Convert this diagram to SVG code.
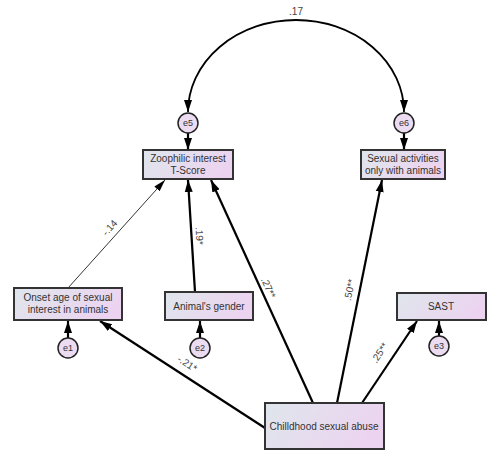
<svg xmlns="http://www.w3.org/2000/svg" width="500" height="455" viewBox="0 0 500 455">
<defs>
<linearGradient id="g" x1="0" y1="0" x2="1" y2="0.3">
<stop offset="0" stop-color="#dfe6ec"/>
<stop offset="1" stop-color="#ecd4f0"/>
</linearGradient>
<marker id="ah" viewBox="0 0 12 10" refX="12" refY="5" markerWidth="12" markerHeight="10" markerUnits="userSpaceOnUse" orient="auto-start-reverse">
<path d="M0,1 L12,5 L0,9 Z" fill="#000"/>
</marker>
<marker id="ahs" viewBox="0 0 12 10" refX="12" refY="5" markerWidth="12" markerHeight="10" markerUnits="userSpaceOnUse" orient="auto-start-reverse">
<path d="M0,1.5 L12,5 L0,8.5 Z" fill="#000"/>
</marker>
</defs>
<style>
.box{fill:url(#g);stroke:#333;stroke-width:2}
.err{fill:#ecdcf2;stroke:#222;stroke-width:1.5}
text{font-family:"Liberation Sans",Arial,sans-serif;font-size:10px;fill:#333;text-anchor:middle}
.et{font-size:9px}
.lbl{font-size:10px;fill:#444}
.c{stroke:#000;stroke-width:2.2;fill:none;marker-end:url(#ah)}
.thin{stroke:#000;stroke-width:0.8;fill:none;marker-end:url(#ahs)}
</style>
<rect width="500" height="455" fill="#fff"/>
<g id="connectors">
<path d="M188,112 A108,92 0 0 1 404,112" fill="none" stroke="#000" stroke-width="1.8" marker-start="url(#ah)" marker-end="url(#ah)"/>
<line class="c" x1="188" y1="133" x2="188" y2="150"/>
<line class="c" x1="404" y1="133" x2="404" y2="150"/>
<line class="thin" x1="68" y1="288" x2="165" y2="180"/>
<line class="c" x1="195" y1="292" x2="188" y2="180"/>
<line class="c" x1="313" y1="403" x2="211" y2="180"/>
<line class="c" x1="337" y1="403" x2="382" y2="180"/>
<line class="c" x1="362" y1="403" x2="417" y2="321"/>
<line class="c" x1="265" y1="428" x2="100" y2="321"/>
<line class="c" x1="68" y1="338" x2="68" y2="321"/>
<line class="c" x1="200" y1="338" x2="200" y2="321"/>
<line class="c" x1="439" y1="336" x2="439" y2="321"/>
<text class="lbl" x="296" y="15">.17</text>
<text class="lbl" transform="translate(110,228) rotate(-48)" y="3">-.14</text>
<text class="lbl" transform="translate(199,236) rotate(87)" y="3">.19*</text>
<text class="lbl" transform="translate(268,288) rotate(65.5)" y="3">.27**</text>
<text class="lbl" transform="translate(350,290) rotate(-78.5)" y="3">.50**</text>
<text class="lbl" transform="translate(380,353) rotate(-56.5)" y="3">.25**</text>
<text class="lbl" transform="translate(187,364) rotate(33)" y="3">-.21*</text>
</g>
<g id="zoophilic">
<rect class="box" x="143" y="150" width="90" height="29"/>
<text x="188" y="162">Zoophilic interest</text>
<text x="188" y="174">T-Score</text>
</g>
<g id="sexual">
<rect class="box" x="361" y="150" width="84" height="29"/>
<text x="403" y="162">Sexual activities</text>
<text x="403" y="174">only with animals</text>
</g>
<g id="onset">
<rect class="box" x="14" y="288" width="108" height="32"/>
<text x="68" y="301">Onset age of sexual</text>
<text x="68" y="313">interest in animals</text>
</g>
<g id="gender">
<rect class="box" x="165" y="292" width="88" height="28"/>
<text x="209" y="310">Animal's gender</text>
</g>
<g id="sast">
<rect class="box" x="397" y="293" width="89" height="27"/>
<text x="441" y="310">SAST</text>
</g>
<g id="csa">
<rect class="box" x="265" y="403" width="119" height="46"/>
<text x="324" y="430">Chilldhood sexual abuse</text>
</g>
<g id="e1"><circle class="err" cx="68" cy="348" r="10"/><text class="et" x="68" y="351">e1</text></g>
<g id="e2"><circle class="err" cx="200" cy="348" r="10"/><text class="et" x="200" y="351">e2</text></g>
<g id="e3"><circle class="err" cx="439" cy="346" r="10"/><text class="et" x="439" y="349">e3</text></g>
<g id="e5"><circle class="err" cx="188" cy="123" r="10"/><text class="et" x="188" y="126">e5</text></g>
<g id="e6"><circle class="err" cx="404" cy="123" r="10"/><text class="et" x="404" y="126">e6</text></g>
</svg>
